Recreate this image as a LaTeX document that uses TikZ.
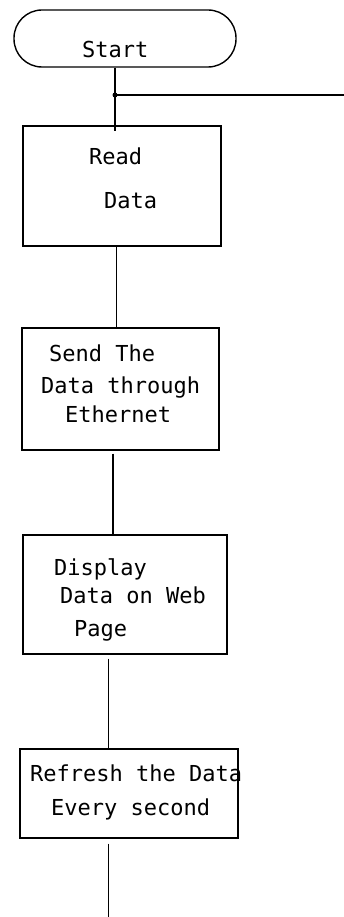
\documentclass[tikz,border=0pt]{standalone}
\usepackage{fontspec}
\newfontfamily\flowfont{DejaVu Sans Mono}

\begin{document}
\begin{tikzpicture}[x=1pt,y=-1pt,%%
  boxStyle/.style={draw,line width=1.4pt,inner sep=0pt},%%
  termStyle/.style={boxStyle,rounded corners=28pt},%%
  labelStyle/.style={anchor=base west,inner sep=0pt,font=\fontsize{22}{26}\selectfont\flowfont},%%
  lineStyle/.style={-,line width=1.4pt}%%
]
%%
%%
\pgfmathsetmacro{\xa}{115}
\pgfmathsetmacro{\xb}{116.5}
\pgfmathsetmacro{\xc}{113}
\pgfmathsetmacro{\xd}{108.5}
%%
\useasboundingbox (0,0) rectangle (344,917);
%%
%% The terminal and the process boxes.
\node[termStyle,minimum width=222pt,minimum height=57pt] (start) at (125,38.5) {};
\node[boxStyle,minimum width=198pt,minimum height=120pt] (read) at (122,186) {};
\node[boxStyle,minimum width=197pt,minimum height=122pt] (send) at (120.5,389) {};
\node[boxStyle,minimum width=204pt,minimum height=119pt] (disp) at (125,594.5) {};
\node[boxStyle,minimum width=218pt,minimum height=89pt] (refresh) at (129,793.5) {};
%%
%% Text of the boxes.
\node[labelStyle] (startA) at (82,58) {Start};
\node[labelStyle] (readA) at (89,165) {Read};
\node[labelStyle] (readB) at (104,208) {Data};
\node[labelStyle] (sendA) at (49,361) {Send The};
\node[labelStyle] (sendB) at (41,393) {Data through};
\node[labelStyle] (sendC) at (65,422) {Ethernet};
\node[labelStyle] (dispA) at (54,575) {Display};
\node[labelStyle] (dispB) at (60,603) {Data on Web};
\node[labelStyle] (dispC) at (74,636) {Page};
\node[labelStyle] (refreshA) at (30,781) {Refresh the Data};
\node[labelStyle] (refreshB) at (51,815) {Every second};
%%
%% Free ends of the lines.
\coordinate (junction) at (\xa,95);
\coordinate (loopEnd) at (344,95);
\coordinate (exitEnd) at (\xd,917);
%%
%% Connectors.
\draw[lineStyle] (start.south -| junction) -- (junction) -- ([yshift=-6pt]read.north -| junction);
\fill (junction) circle (2.5pt);
\draw[lineStyle] (junction) -- (loopEnd);
\draw[lineStyle] (read.south -| \xb,0) -- ([yshift=-2pt]send.north -| \xb,0);
\draw[lineStyle,shorten <=3pt] (send.south -| \xc,0) -- (disp.north -| \xc,0);
\draw[lineStyle,shorten <=4pt] (disp.south -| \xd,0) -- ([yshift=-2pt]refresh.north -| \xd,0);
\draw[lineStyle,shorten <=5pt] (refresh.south -| \xd,0) -- (exitEnd);
\end{tikzpicture}
\end{document}
